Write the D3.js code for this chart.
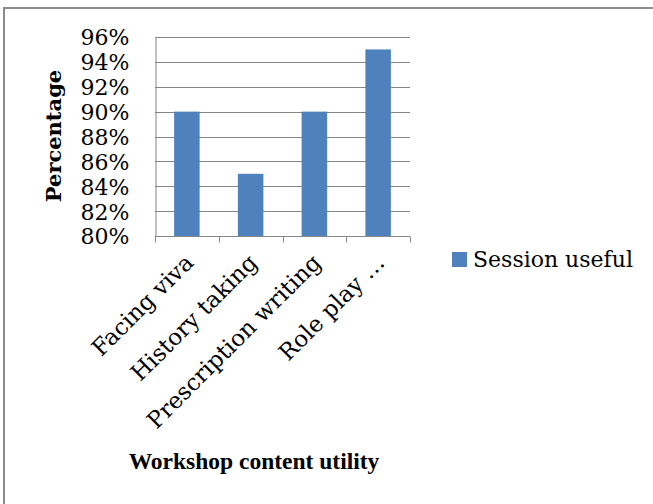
<!DOCTYPE html>
<html><head><meta charset="utf-8">
<script src="https://cdn.jsdelivr.net/npm/d3@7"></script>
<style>body{margin:0;background:#fff}svg{display:block}</style>
</head><body>
<script>
const categories = ["Facing viva", "History taking", "Prescription writing", "Role play \u2026"];
const sessionUseful = [0.90, 0.85, 0.90, 0.95];
const seriesName = "Session useful";
const yTicks = [0.80, 0.82, 0.84, 0.86, 0.88, 0.90, 0.92, 0.94, 0.96];
const yTitle = "Percentage";
const xTitle = "Workshop content utility";

(function () {
const W = 653, H = 504;
const font = "'DejaVu Serif', serif";
const svg = d3.select("body").append("svg").attr("width", W).attr("height", H);

svg.append("rect").attr("x", 4).attr("y", 8).attr("width", W + 10).attr("height", H + 10)
  .attr("fill", "none").attr("stroke", "#8a8a8a").attr("stroke-width", 2);

const pl = 155, pr = 410, pt = 37, pb = 236;
const xb = d3.scaleBand().domain(categories).range([pl, pr]);
const y = d3.scaleLinear().domain([0.80, 0.96]).range([pb, pt]);

svg.append("g").selectAll("line").data(yTicks.slice(1)).join("line")
  .attr("x1", pl).attr("x2", pr)
  .attr("y1", d => Math.round(y(d)) + 0.5).attr("y2", d => Math.round(y(d)) + 0.5)
  .attr("stroke", "#868686").attr("stroke-width", 1);

svg.append("g").selectAll("rect").data(sessionUseful).join("rect")
  .attr("x", (d, i) => xb(categories[i]) + xb.bandwidth() * 0.3)
  .attr("width", xb.bandwidth() * 0.4)
  .attr("y", d => y(d))
  .attr("height", d => pb - y(d))
  .attr("fill", "#4f81bd");

const yAxis = d3.axisLeft(y).tickValues(yTicks).tickFormat(d3.format(".0%")).tickSize(0).tickPadding(0);
const gy = svg.append("g").attr("transform", `translate(${pl + 0.5},0)`).call(yAxis);
gy.select(".domain").attr("stroke", "#868686");
gy.selectAll("text").attr("x", -26).attr("dy", "0.36em")
  .attr("font-family", font).attr("font-size", 22).attr("fill", "#000");

const gx = svg.append("g").attr("transform", `translate(0,${pb + 0.5})`);
gx.append("line").attr("x1", pl).attr("x2", pr).attr("stroke", "#868686");
gx.selectAll("line.t").data(d3.range(categories.length + 1)).join("line").attr("class", "t")
  .attr("x1", i => Math.round(pl + i * xb.step()) + 0.5)
  .attr("x2", i => Math.round(pl + i * xb.step()) + 0.5)
  .attr("y1", 0).attr("y2", 6).attr("stroke", "#868686");

svg.append("g").selectAll("text").data(categories).join("text")
  .attr("transform", d => `translate(${xb(d) + xb.bandwidth() / 2 + 8},264) rotate(-45)`)
  .attr("text-anchor", "end")
  .attr("font-family", font).attr("font-size", 23).attr("fill", "#000")
  .text(d => d);

svg.append("text").attr("transform", "translate(61,136) rotate(-90)")
  .attr("text-anchor", "middle").attr("font-family", font).attr("font-weight", "bold")
  .attr("font-size", 21).text(yTitle);

svg.append("text").attr("x", 254).attr("y", 469).attr("text-anchor", "middle")
  .attr("font-family", "'Liberation Serif', serif").attr("font-weight", "bold")
  .attr("font-size", 23.5).text(xTitle);

const lg = svg.append("g").attr("transform", "translate(452,252)");
lg.append("rect").attr("width", 15).attr("height", 15).attr("fill", "#4f81bd");
lg.append("text").attr("x", 21).attr("y", 15).attr("font-family", font)
  .attr("font-size", 22).attr("fill", "#000").text(seriesName);
})();
</script>
</body></html>
